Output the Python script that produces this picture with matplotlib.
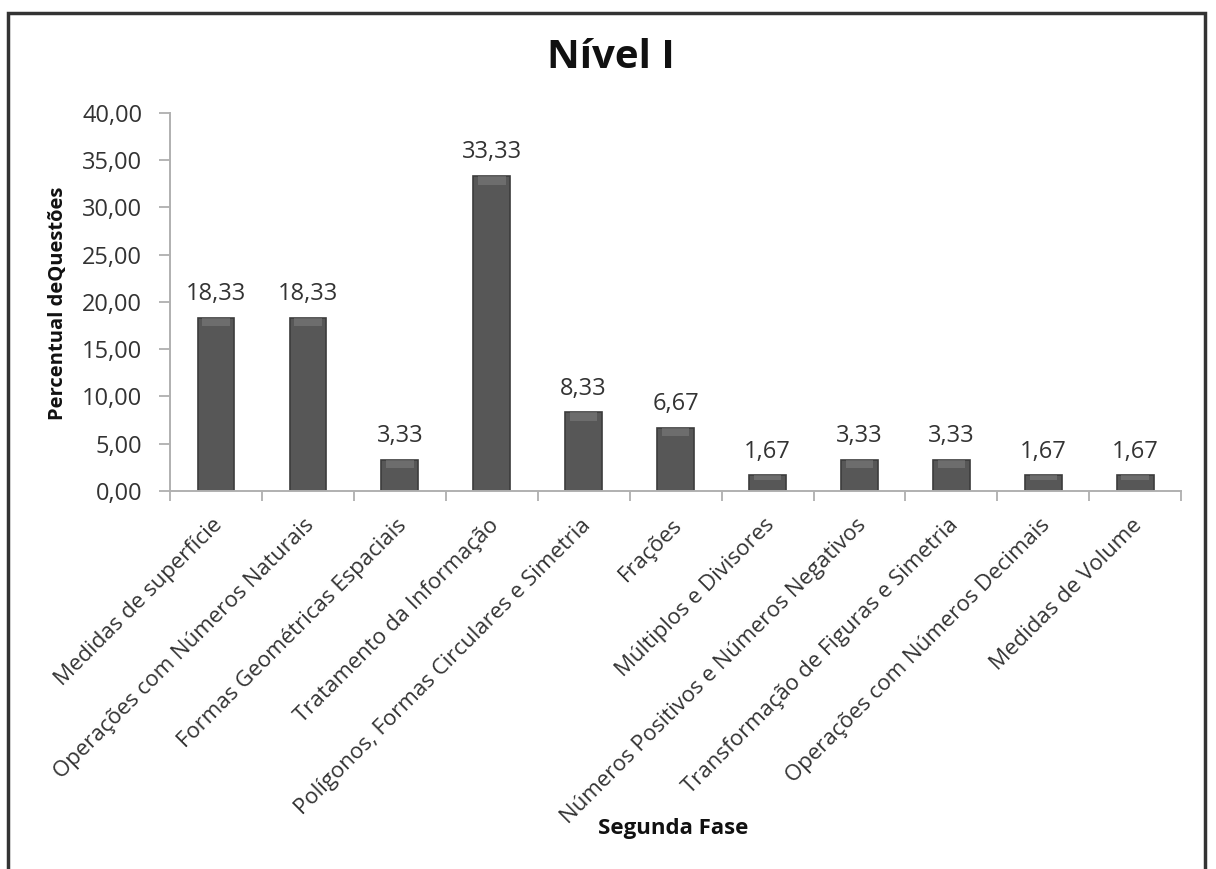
import numpy as np
import matplotlib.pyplot as plt
from matplotlib.patches import Rectangle

plt.rcParams['font.family'] = ['Open Sans', 'DejaVu Sans']

categorias = ['Medidas de superfície', 'Operações com Números Naturais',
              'Formas Geométricas Espaciais', 'Tratamento da Informação',
              'Polígonos, Formas Circulares e Simetria', 'Frações',
              'Múltiplos e Divisores', 'Números Positivos e Números Negativos',
              'Transformação de Figuras e Simetria',
              'Operações com Números Decimais', 'Medidas de Volume']
percentual = [18.33, 18.33, 3.33, 33.33, 8.33, 6.67, 1.67, 3.33, 3.33, 1.67, 1.67]
yticks = [0, 5, 10, 15, 20, 25, 30, 35, 40]

fig = plt.figure(figsize=(12.16, 8.69), dpi=100)
ax = fig.add_axes([0.1398, 0.435, 0.8316, 0.435])

x = np.arange(len(categorias))
ax.bar(x, percentual, width=0.40, color='#575757', edgecolor='#3c3c3c',
       linewidth=1.2, zorder=2)
# faixa clara no topo de cada barra (efeito de bisel)
brilho = [min(0.9, v * 0.3) for v in percentual]
ax.bar(x, brilho, bottom=[v - b for v, b in zip(percentual, brilho)], width=0.30,
       color='#8a8a8a', alpha=0.45, linewidth=0, zorder=3)

for xi, v in zip(x, percentual):
    ax.text(xi, v + 2.5, f'{v:.2f}'.replace('.', ','), ha='center', va='center',
            fontsize=17, color='#333333')

ax.set_xlim(-0.5, len(categorias) - 0.5)
ax.set_ylim(0, 40)
ax.set_yticks(yticks)
ax.set_yticklabels([f'{t:.2f}'.replace('.', ',') for t in yticks], fontsize=17,
                   color='#333333')
ax.set_xticks(np.arange(len(categorias) + 1) - 0.5)
ax.set_xticklabels([])
ax.tick_params(axis='x', length=7, color='#a8a8a8', width=1.2, direction='out')
ax.tick_params(axis='y', length=8, color='#a8a8a8', width=1.2, pad=12)

for xi, nome in zip(x, categorias):
    ax.text(xi + 0.04, -3.3, nome, rotation=45, rotation_mode='anchor',
            ha='right', va='center', fontsize=16, color='#333333')

for s in ['top', 'right']:
    ax.spines[s].set_visible(False)
for s in ['left', 'bottom']:
    ax.spines[s].set_color('#b0b0b0')
    ax.spines[s].set_linewidth(1.4)

fig.text(0.502, 0.934, 'Nível I', ha='center', va='center', fontsize=29,
         fontweight='bold', color='#111111')
fig.text(0.048, 0.651, 'Percentual deQuestões', ha='center', va='center',
         rotation=90, fontsize=14.5, fontweight='bold', color='#111111')
fig.text(0.554, 0.047, 'Segunda Fase', ha='center', va='center', fontsize=16,
         fontweight='bold', color='#111111')

# moldura externa
fig.patches.append(Rectangle((0.0065, -0.01), 0.9845, 0.9945, transform=fig.transFigure,
                             fill=False, edgecolor='#333333', linewidth=2.5))

fig.savefig('out.png', dpi=100)
